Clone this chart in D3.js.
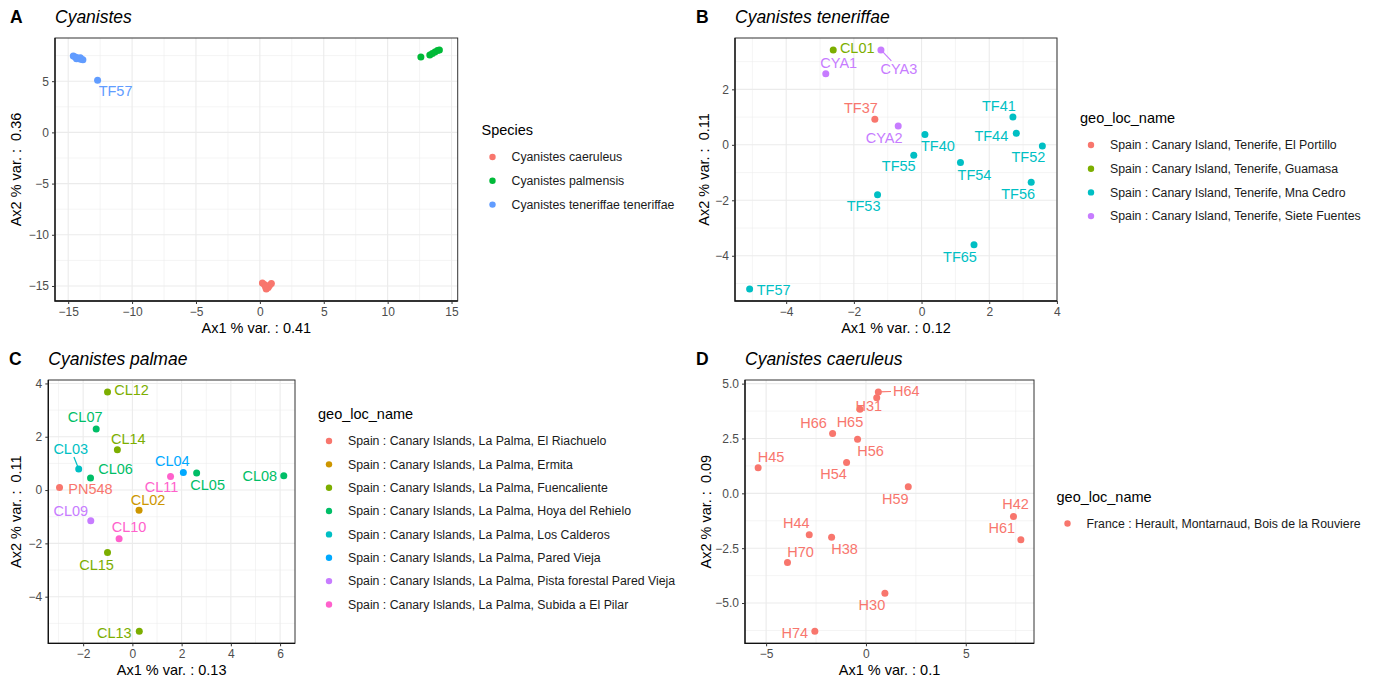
<!DOCTYPE html>
<html>
<head>
<meta charset="utf-8">
<script src="https://cdn.jsdelivr.net/npm/d3@7"></script>
<style>
  body { margin: 0; background: #fff; }
  svg { font-family: "Liberation Sans", Arial, sans-serif; }
</style>
</head>
<body>
<svg id="fig" width="1377" height="682"></svg>
<script>
// ---- data (PCA axes Ax1 / Ax2) ----

// A: all Cyanistes, coloured by species
const speciesNames = ["Cyanistes caeruleus", "Cyanistes palmensis", "Cyanistes teneriffae teneriffae"];
const speciesPoints = [
  {id: "", ax1: 0.2, ax2: -14.7, grp: 0}, {id: "", ax1: 0.35, ax2: -14.85, grp: 0},
  {id: "", ax1: 0.5, ax2: -15.0, grp: 0}, {id: "", ax1: 0.65, ax2: -15.15, grp: 0},
  {id: "", ax1: 0.5, ax2: -15.3, grp: 0}, {id: "", ax1: 0.75, ax2: -14.95, grp: 0},
  {id: "", ax1: 0.9, ax2: -14.75, grp: 0}, {id: "", ax1: 0.45, ax2: -15.1, grp: 0},
  {id: "", ax1: 12.6, ax2: 7.35, grp: 1}, {id: "", ax1: 13.3, ax2: 7.55, grp: 1},
  {id: "", ax1: 13.5, ax2: 7.7, grp: 1}, {id: "", ax1: 13.7, ax2: 7.85, grp: 1},
  {id: "", ax1: 13.9, ax2: 8.0, grp: 1}, {id: "", ax1: 14.05, ax2: 8.05, grp: 1},
  {id: "", ax1: -14.6, ax2: 7.45, grp: 2}, {id: "", ax1: -14.45, ax2: 7.35, grp: 2},
  {id: "", ax1: -14.3, ax2: 7.28, grp: 2}, {id: "", ax1: -14.15, ax2: 7.2, grp: 2},
  {id: "", ax1: -14.0, ax2: 7.15, grp: 2}, {id: "", ax1: -13.85, ax2: 7.1, grp: 2},
  {id: "", ax1: -14.35, ax2: 7.2, grp: 2}, {id: "", ax1: -14.05, ax2: 7.3, grp: 2},
  {id: "TF57", ax1: -12.7, ax2: 5.1, grp: 2}
];

// B: Cyanistes teneriffae
const tenerifeSites = [
  "Spain : Canary Island, Tenerife, El Portillo",
  "Spain : Canary Island, Tenerife, Guamasa",
  "Spain : Canary Island, Tenerife, Mna Cedro",
  "Spain : Canary Island, Tenerife, Siete Fuentes"
];
const tenerifePoints = [
  {id: "CL01", ax1: -2.61, ax2: 3.42, grp: 1},
  {id: "CYA3", ax1: -1.20, ax2: 3.42, grp: 3},
  {id: "CYA1", ax1: -2.83, ax2: 2.56, grp: 3},
  {id: "TF37", ax1: -1.38, ax2: 0.92, grp: 0},
  {id: "CYA2", ax1: -0.69, ax2: 0.68, grp: 3},
  {id: "TF40", ax1: 0.10, ax2: 0.37, grp: 2},
  {id: "TF55", ax1: -0.23, ax2: -0.38, grp: 2},
  {id: "TF54", ax1: 1.15, ax2: -0.64, grp: 2},
  {id: "TF53", ax1: -1.30, ax2: -1.80, grp: 2},
  {id: "TF41", ax1: 2.70, ax2: 1.00, grp: 2},
  {id: "TF44", ax1: 2.80, ax2: 0.42, grp: 2},
  {id: "TF52", ax1: 3.57, ax2: -0.04, grp: 2},
  {id: "TF56", ax1: 3.24, ax2: -1.35, grp: 2},
  {id: "TF65", ax1: 1.55, ax2: -3.60, grp: 2},
  {id: "TF57", ax1: -5.08, ax2: -5.20, grp: 2}
];

// C: Cyanistes palmae
const palmaSites = [
  "Spain : Canary Islands, La Palma, El Riachuelo",
  "Spain : Canary Islands, La Palma, Ermita",
  "Spain : Canary Islands, La Palma, Fuencaliente",
  "Spain : Canary Islands, La Palma, Hoya del Rehielo",
  "Spain : Canary Islands, La Palma, Los Calderos",
  "Spain : Canary Islands, La Palma, Pared Vieja",
  "Spain : Canary Islands, La Palma, Pista forestal Pared Vieja",
  "Spain : Canary Islands, La Palma, Subida a El Pilar"
];
const palmaPoints = [
  {id: "CL12", ax1: -1.01, ax2: 3.68, grp: 2},
  {id: "CL07", ax1: -1.47, ax2: 2.29, grp: 3},
  {id: "CL14", ax1: -0.61, ax2: 1.51, grp: 2},
  {id: "CL03", ax1: -2.18, ax2: 0.79, grp: 4},
  {id: "CL06", ax1: -1.70, ax2: 0.45, grp: 3},
  {id: "PN548", ax1: -2.96, ax2: 0.10, grp: 0},
  {id: "CL04", ax1: 2.07, ax2: 0.66, grp: 5},
  {id: "CL05", ax1: 2.61, ax2: 0.64, grp: 3},
  {id: "CL11", ax1: 1.55, ax2: 0.51, grp: 7},
  {id: "CL08", ax1: 6.15, ax2: 0.54, grp: 3},
  {id: "CL02", ax1: 0.27, ax2: -0.76, grp: 1},
  {id: "CL09", ax1: -1.69, ax2: -1.15, grp: 6},
  {id: "CL10", ax1: -0.54, ax2: -1.83, grp: 7},
  {id: "CL15", ax1: -1.01, ax2: -2.34, grp: 2},
  {id: "CL13", ax1: 0.28, ax2: -5.30, grp: 2}
];

// D: Cyanistes caeruleus
const caeruleusSites = ["France : Herault, Montarnaud, Bois de la Rouviere"];
const caeruleusPoints = [
  {id: "H64", ax1: 0.62, ax2: 4.62, grp: 0},
  {id: "H31", ax1: 0.54, ax2: 4.36, grp: 0},
  {id: "H65", ax1: -0.30, ax2: 3.83, grp: 0},
  {id: "H66", ax1: -1.67, ax2: 2.73, grp: 0},
  {id: "H56", ax1: -0.42, ax2: 2.47, grp: 0},
  {id: "H45", ax1: -5.40, ax2: 1.17, grp: 0},
  {id: "H54", ax1: -0.97, ax2: 1.41, grp: 0},
  {id: "H59", ax1: 2.12, ax2: 0.30, grp: 0},
  {id: "H42", ax1: 7.39, ax2: -1.06, grp: 0},
  {id: "H61", ax1: 7.76, ax2: -2.12, grp: 0},
  {id: "H44", ax1: -2.84, ax2: -1.89, grp: 0},
  {id: "H38", ax1: -1.72, ax2: -2.00, grp: 0},
  {id: "H70", ax1: -3.93, ax2: -3.15, grp: 0},
  {id: "H30", ax1: 0.95, ax2: -4.55, grp: 0},
  {id: "H74", ax1: -2.56, ax2: -6.29, grp: 0}
];

// ---- label placement (pixel offsets of label centre from point, as repelled in the figure) ----
const nudgeA = {TF57: [18, 11]};
const nudgeB = {
  CL01: [24, -2], CYA3: [18, 19, true], CYA1: [13, -11], TF37: [-14, -11], CYA2: [-14, 12],
  TF40: [13, 11], TF55: [-15, 11], TF54: [14, 12], TF53: [-14, 11], TF41: [-14, -11],
  TF44: [-25, 3], TF52: [-14, 11], TF56: [-13, 12], TF65: [-14, 12], TF57: [24, 1]
};
const nudgeC = {
  CL12: [24, -2], CL07: [-11, -12], CL14: [11, -11], CL03: [-8, -20, true], CL06: [25, -9],
  PN548: [31, 2], CL04: [-11, -12], CL05: [11, 12], CL11: [-9, 10], CL08: [-24, 0],
  CL02: [9, -10], CL09: [-20, -10], CL10: [10, -12], CL15: [-11, 12], CL13: [-25, 2]
};
const nudgeD = {
  H64: [28, -1, true], H31: [-8, 8], H65: [-10, 13], H66: [-19, -11], H56: [13, 12],
  H45: [13, -11], H54: [-13, 12], H59: [-13, 12], H42: [2, -13], H61: [-19, -12],
  H44: [-13, -12], H38: [13, 12], H70: [13, -11], H30: [-13, 12], H74: [-20, 2]
};

// ggplot hue palettes
const hue3 = ["#F8766D", "#00BA38", "#619CFF"];
const hue4 = ["#F8766D", "#7CAE00", "#00BFC4", "#C77CFF"];
const hue8 = ["#F8766D", "#CD9600", "#7CAE00", "#00BE67", "#00BFC4", "#00A9FF", "#C77CFF", "#FF61CC"];
const hue1 = ["#F8766D"];

const svg = d3.select("#fig");
const fmt = d3.format("");

function expand([a, b]) {
  const p = (b - a) * 0.05;
  return [a - p, b + p];
}

function minors(ticks, dom) {
  const step = ticks[1] - ticks[0];
  const out = [];
  for (let v = ticks[0] - step / 2; v <= dom[1]; v += step) if (v >= dom[0]) out.push(v);
  return out;
}

function panel(cfg) {
  const g = svg.append("g");
  const xDom = expand(d3.extent(cfg.pts, d => d.ax1));
  const yDom = expand(d3.extent(cfg.pts, d => d.ax2));
  const x = d3.scaleLinear().domain(xDom).range([cfg.l, cfg.r]);
  const y = d3.scaleLinear().domain(yDom).range([cfg.b, cfg.t]);

  g.append("rect").attr("x", cfg.l).attr("y", cfg.t)
    .attr("width", cfg.r - cfg.l).attr("height", cfg.b - cfg.t).attr("fill", "#fff");

  // grid
  const grid = g.append("g").attr("stroke", "#EBEBEB");
  grid.selectAll(".mx").data(minors(cfg.xt, xDom)).join("line")
    .attr("x1", d => x(d)).attr("x2", d => x(d)).attr("y1", cfg.t).attr("y2", cfg.b).attr("stroke-width", 0.55);
  grid.selectAll(".my").data(minors(cfg.yt, yDom)).join("line")
    .attr("y1", d => y(d)).attr("y2", d => y(d)).attr("x1", cfg.l).attr("x2", cfg.r).attr("stroke-width", 0.55);
  grid.selectAll(".Mx").data(cfg.xt).join("line")
    .attr("x1", d => x(d)).attr("x2", d => x(d)).attr("y1", cfg.t).attr("y2", cfg.b).attr("stroke-width", 1.1);
  grid.selectAll(".My").data(cfg.yt).join("line")
    .attr("y1", d => y(d)).attr("y2", d => y(d)).attr("x1", cfg.l).attr("x2", cfg.r).attr("stroke-width", 1.1);

  // border + axis lines
  g.append("rect").attr("x", cfg.l).attr("y", cfg.t)
    .attr("width", cfg.r - cfg.l).attr("height", cfg.b - cfg.t)
    .attr("fill", "none").attr("stroke", "#333").attr("stroke-width", 1);
  g.append("path").attr("d", `M${cfg.l},${cfg.t}V${cfg.b}H${cfg.r}`)
    .attr("fill", "none").attr("stroke", "#111").attr("stroke-width", 1.3);

  // axes
  const xa = g.append("g").attr("transform", `translate(0,${cfg.b})`)
    .call(d3.axisBottom(x).tickValues(cfg.xt).tickSize(3).tickPadding(3).tickFormat(cfg.xf || fmt));
  const ya = g.append("g").attr("transform", `translate(${cfg.l},0)`)
    .call(d3.axisLeft(y).tickValues(cfg.yt).tickSize(3).tickPadding(3).tickFormat(cfg.yf || fmt));
  [xa, ya].forEach(a => {
    a.select(".domain").remove();
    a.selectAll(".tick line").attr("stroke", "#333");
    a.selectAll(".tick text").attr("fill", "#4D4D4D").style("font-size", "12px")
      .style("font-family", '"Liberation Sans", Arial, sans-serif');
  });

  // axis titles
  g.append("text").attr("x", (cfg.l + cfg.r) / 2).attr("y", cfg.b + 32)
    .attr("text-anchor", "middle").style("font-size", "14.5px").text(cfg.xlab);
  g.append("text").attr("transform", `translate(${cfg.ylabX},${(cfg.t + cfg.b) / 2}) rotate(-90)`)
    .attr("text-anchor", "middle").attr("dy", "0.35em").attr("xml:space", "preserve")
    .style("font-size", "14.5px").text(cfg.ylab);

  // tag + title
  g.append("text").attr("x", cfg.tagX).attr("y", cfg.t - 15.5)
    .style("font-size", "17.5px").style("font-weight", "bold").text(cfg.tag);
  g.append("text").attr("x", cfg.l).attr("y", cfg.t - 15.5)
    .style("font-size", "17.5px").style("font-style", "italic").text(cfg.title);

  // labels (segments first so points sit on top)
  const lab = g.append("g");
  const segs = g.append("g");
  cfg.pts.filter(d => d.id && cfg.nudge[d.id]).forEach(d => {
    const [dx, dy, seg] = cfg.nudge[d.id];
    const px = x(d.ax1), py = y(d.ax2);
    const cx = px + dx, cy = py + dy;
    const t = lab.append("text").attr("x", cx).attr("y", cy).attr("dy", "0.35em")
      .attr("text-anchor", "middle").attr("fill", cfg.colors[d.grp])
      .style("font-size", "14.5px").text(d.id);
    if (seg) {
      const bb = t.node().getBBox();
      const hw = bb.width / 2 + 2, hh = bb.height / 2;
      const vx = px - cx, vy = py - cy;
      const s = Math.min(vx ? hw / Math.abs(vx) : Infinity, vy ? hh / Math.abs(vy) : Infinity);
      segs.append("line").attr("x1", cx + vx * s).attr("y1", cy + vy * s)
        .attr("x2", px).attr("y2", py).attr("stroke", cfg.colors[d.grp]).attr("stroke-width", 1.2);
    }
  });

  g.append("g").selectAll("circle").data(cfg.pts).join("circle")
    .attr("cx", d => x(d.ax1)).attr("cy", d => y(d.ax2)).attr("r", 3.5)
    .attr("fill", d => cfg.colors[d.grp]);

  // legend
  const lg = g.append("g");
  lg.append("text").attr("x", cfg.lgX).attr("y", cfg.lgY).style("font-size", "14.5px").text(cfg.lgTitle);
  cfg.names.forEach((n, i) => {
    const yy = cfg.lgY + 22 + i * cfg.lgStep;
    lg.append("circle").attr("cx", cfg.lgX + 11).attr("cy", yy).attr("r", 3.2).attr("fill", cfg.colors[i]);
    lg.append("text").attr("x", cfg.lgX + 30).attr("y", yy).attr("dy", "0.35em")
      .style("font-size", "12.3px").attr("fill", "#1a1a1a").text(n);
  });
}

panel({
  tag: "A", title: "Cyanistes", tagX: 10, l: 55, r: 457.7, t: 38, b: 301, ylabX: 16,
  pts: speciesPoints, colors: hue3, nudge: nudgeA,
  xt: [-15, -10, -5, 0, 5, 10, 15], yt: [-15, -10, -5, 0, 5],
  xlab: "Ax1 % var. : 0.41", ylab: "Ax2 % var. :  0.36",
  names: speciesNames, lgTitle: "Species", lgX: 481.5, lgY: 135, lgStep: 23.8
});

panel({
  tag: "B", title: "Cyanistes teneriffae", tagX: 696, l: 735, r: 1057, t: 38, b: 301, ylabX: 704,
  pts: tenerifePoints, colors: hue4, nudge: nudgeB,
  xt: [-4, -2, 0, 2, 4], yt: [-4, -2, 0, 2],
  xlab: "Ax1 % var. : 0.12", ylab: "Ax2 % var. :  0.11",
  names: tenerifeSites, lgTitle: "geo_loc_name", lgX: 1080, lgY: 123, lgStep: 23.7
});

panel({
  tag: "C", title: "Cyanistes palmae", tagX: 9, l: 48.3, r: 295, t: 380, b: 643.3, ylabX: 16,
  pts: palmaPoints, colors: hue8, nudge: nudgeC,
  xt: [-2, 0, 2, 4, 6], yt: [-4, -2, 0, 2, 4],
  xlab: "Ax1 % var. : 0.13", ylab: "Ax2 % var. :  0.11",
  names: palmaSites, lgTitle: "geo_loc_name", lgX: 318, lgY: 419, lgStep: 23.35
});

panel({
  tag: "D", title: "Cyanistes caeruleus", tagX: 696, l: 745, r: 1034, t: 380, b: 643.3, ylabX: 705.5,
  pts: caeruleusPoints, colors: hue1, nudge: nudgeD,
  xt: [-5, 0, 5], yt: [-5, -2.5, 0, 2.5, 5], yf: d3.format(".1f"),
  xlab: "Ax1 % var. : 0.1", ylab: "Ax2 % var. :  0.09",
  names: caeruleusSites, lgTitle: "geo_loc_name", lgX: 1056.5, lgY: 501.5, lgStep: 23
});
</script>
</body>
</html>
